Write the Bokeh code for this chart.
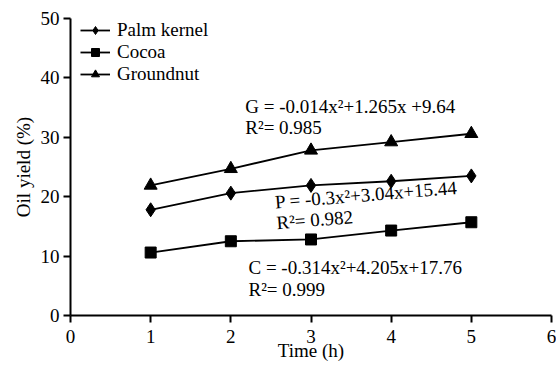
from bokeh.plotting import figure
from bokeh.models import Range1d, FixedTicker, Legend, LegendItem
from bokeh.embed import file_html
from bokeh.resources import INLINE
from bokeh.core.properties import value

time_h = [1, 2, 3, 4, 5]
palm_kernel = [17.8, 20.6, 21.9, 22.6, 23.5]
cocoa = [10.6, 12.5, 12.8, 14.3, 15.7]
groundnut = [21.9, 24.7, 27.8, 29.2, 30.6]

x_ticks = [0, 1, 2, 3, 4, 5, 6]
y_ticks = [0, 10, 20, 30, 40, 50]

FONT = "Liberation Serif"
FS = "19px"

p = figure(width=556, height=367, output_backend="svg", toolbar_location=None,
           x_range=Range1d(0, 6), y_range=Range1d(0, 50),
           min_border_left=70, min_border_right=5, min_border_top=18, min_border_bottom=52)
p.outline_line_color = None
p.grid.visible = False
p.background_fill_color = "white"

for ax in (p.xaxis[0], p.yaxis[0]):
    ax.axis_line_width = 2
    ax.axis_line_color = "black"
    ax.major_tick_line_width = 2
    ax.major_tick_line_color = "black"
    ax.major_tick_out = 7
    ax.major_tick_in = 0
    ax.minor_tick_line_color = None
    ax.major_label_text_font = FONT
    ax.major_label_text_font_size = FS
    ax.major_label_text_color = "black"
    ax.axis_label_text_font = FONT
    ax.axis_label_text_font_size = FS
    ax.axis_label_text_font_style = "normal"
    ax.axis_label_text_color = "black"

p.xaxis.ticker = FixedTicker(ticks=x_ticks)
p.yaxis.ticker = FixedTicker(ticks=y_ticks)
p.xaxis.axis_label = "Time (h)"
p.yaxis.axis_label = "Oil yield (%)"
p.xaxis.major_label_standoff = 7
p.yaxis.major_label_standoff = 4
p.xaxis.axis_label_standoff = -6
p.yaxis.axis_label_standoff = 4

series = [("Palm kernel", palm_kernel, "diamond", 14),
          ("Cocoa", cocoa, "square", 11),
          ("Groundnut", groundnut, "triangle", 13)]
items = []
for name, ys, marker, size in series:
    l = p.line(time_h, ys, line_color="black", line_width=1.8)
    s = p.scatter(time_h, ys, marker=marker, size=size, fill_color="black", line_color="black")
    items.append(LegendItem(label=name, renderers=[l, s]))

legend = Legend(items=items, location=(10, 230), margin=0, padding=0, spacing=0,
                glyph_width=30, glyph_height=20, label_height=20, label_standoff=7,
                label_text_font=FONT, label_text_font_size=FS, label_text_color="black",
                border_line_color=None, background_fill_alpha=0)
p.add_layout(legend)

ann_x = [2.18, 2.18, 2.55, 2.57, 2.22, 2.22]
ann_y = [35.2, 31.6, 19.1, 15.6, 8.1, 4.4]
ann_t = ["G = -0.014x\u00b2+1.265x +9.64", "R\u00b2= 0.985",
         "P = -0.3x\u00b2+3.04x+15.44", "R\u00b2= 0.982",
         "C = -0.314x\u00b2+4.205x+17.76", "R\u00b2= 0.999"]
ann_a = [0, 0, 0.08, 0.08, 0, 0]
p.text(x=ann_x, y=ann_y, text=ann_t, angle=ann_a, text_font=value(FONT),
       text_font_size=FS, text_color="black", text_baseline="middle", text_align="left")

open("out.html", "w").write(file_html(p, INLINE))
